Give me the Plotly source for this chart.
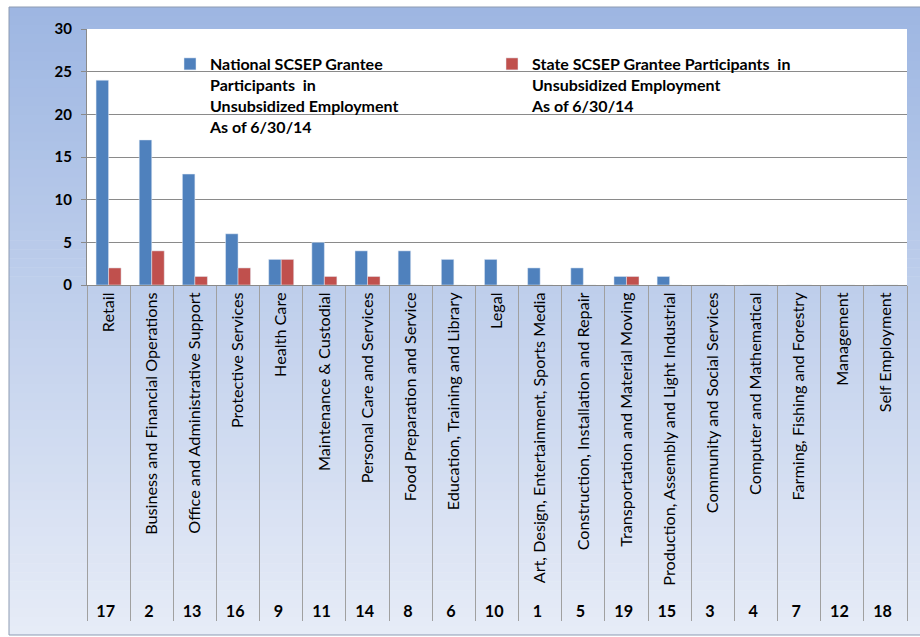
import plotly.graph_objects as go

categories = ["Retail", "Business and Financial Operations", "Office and Administrative Support",
              "Protective Services", "Health Care", "Maintenance & Custodial",
              "Personal Care and Services", "Food Preparation and Service",
              "Education, Training and Library", "Legal",
              "Art, Design, Entertainment, Sports Media", "Construction, Installation and Repair",
              "Transportation and Material Moving", "Production, Assembly and Light Industrial",
              "Community and Social Services", "Computer and Mathematical",
              "Farming, Fishing and Forestry", "Management", "Self Employment"]
codes = ["17", "2", "13", "16", "9", "11", "14", "8", "6", "10", "1", "5", "19", "15",
         "3", "4", "7", "12", "18"]
national = [24, 17, 13, 6, 3, 5, 4, 4, 3, 3, 2, 2, 1, 1, 0, 0, 0, 0, 0]
state = [2, 4, 1, 2, 3, 1, 1, 0, 0, 0, 0, 0, 1, 0, 0, 0, 0, 0, 0]
y_ticks = [0, 5, 10, 15, 20, 25, 30]

national_name = "National SCSEP Grantee<br>Participants  in<br>Unsubsidized Employment<br>As of 6/30/14"
state_name = "State SCSEP Grantee Participants  in<br>Unsubsidized Employment<br>As of 6/30/14"

W, H = 920, 637
L, R, T, B = 87, 13, 29, 352  # plot area 87..907 x 29..285
pw, ph = W - L - R, H - T - B

x_multi = [["<b>%s</b>" % c for c in codes], categories]

fig = go.Figure()
fig.add_trace(go.Bar(x=x_multi, y=national, name=national_name, marker_color="#4f81bd"))
fig.add_trace(go.Bar(x=x_multi, y=state, name=state_name, marker_color="#c0504d"))

def px2x(p):
    return (p - L) / pw

def py2y(p):
    return (T + ph - p) / ph

shapes = []
top_c = (157, 182, 226)
bot_c = (231, 236, 247)
y_top, y_bot = 7, 635
n = 70
for i in range(n):
    f = (i + 0.5) / n
    c = tuple(round(top_c[k] + (bot_c[k] - top_c[k]) * f) for k in range(3))
    p0 = y_top + (y_bot - y_top) * i / n
    p1 = min(y_bot, y_top + (y_bot - y_top) * (i + 1) / n + 0.6)
    shapes.append(dict(type="rect", xref="paper", yref="paper", layer="below",
                       x0=px2x(9), x1=px2x(921), y0=py2y(p1), y1=py2y(p0),
                       fillcolor="rgb(%d,%d,%d)" % c, line_width=0))
# frame border
shapes.append(dict(type="rect", xref="paper", yref="paper", layer="below",
                   x0=px2x(9), x1=px2x(925), y0=py2y(635), y1=py2y(7),
                   fillcolor="rgba(0,0,0,0)", line=dict(color="#8d9bb2", width=1)))
# white plot area
shapes.append(dict(type="rect", xref="paper", yref="paper", layer="below",
                   x0=0, x1=1, y0=0, y1=1, fillcolor="white", line_width=0))

fig.update_layout(
    width=W, height=H,
    margin=dict(l=L, r=R, t=T, b=B, autoexpand=False),
    paper_bgcolor="white",
    plot_bgcolor="rgba(0,0,0,0)",
    barmode="group", bargap=0.42, bargroupgap=0,
    shapes=shapes,
    font=dict(family="Lato", color="black"),
    showlegend=True,
    legend=dict(orientation="h", x=px2x(170), y=py2y(47), xanchor="left", yanchor="top",
                bgcolor="rgba(0,0,0,0)", font=dict(size=16, family="Lato", weight="bold"),
                valign="top", entrywidthmode="pixels", entrywidth=277,
                itemclick=False, itemdoubleclick=False),
)
fig.update_xaxes(
    type="multicategory", automargin=False,
    tickangle=-90, tickfont=dict(size=16.2, family="Lato", color="black"),
    showdividers=True, dividercolor="#a0a0a0", dividerwidth=1,
    showline=True, linecolor="#8a8a8a", linewidth=1, ticks="",
    showgrid=False,
)
fig.update_yaxes(
    range=[0, 30], tickvals=y_ticks, automargin=False,
    showgrid=True, gridcolor="#8a8a8a", gridwidth=1,
    showline=True, linecolor="#8a8a8a", linewidth=1,
    ticks="outside", ticklen=5, tickcolor="#8a8a8a", ticklabelstandoff=6,
    tickfont=dict(size=15, family="Lato", color="black", weight="bold"),
    zeroline=False,
)

fig.write_html("out.html", config={"displayModeBar": False},
               post_script="document.body.style.margin='0';")
